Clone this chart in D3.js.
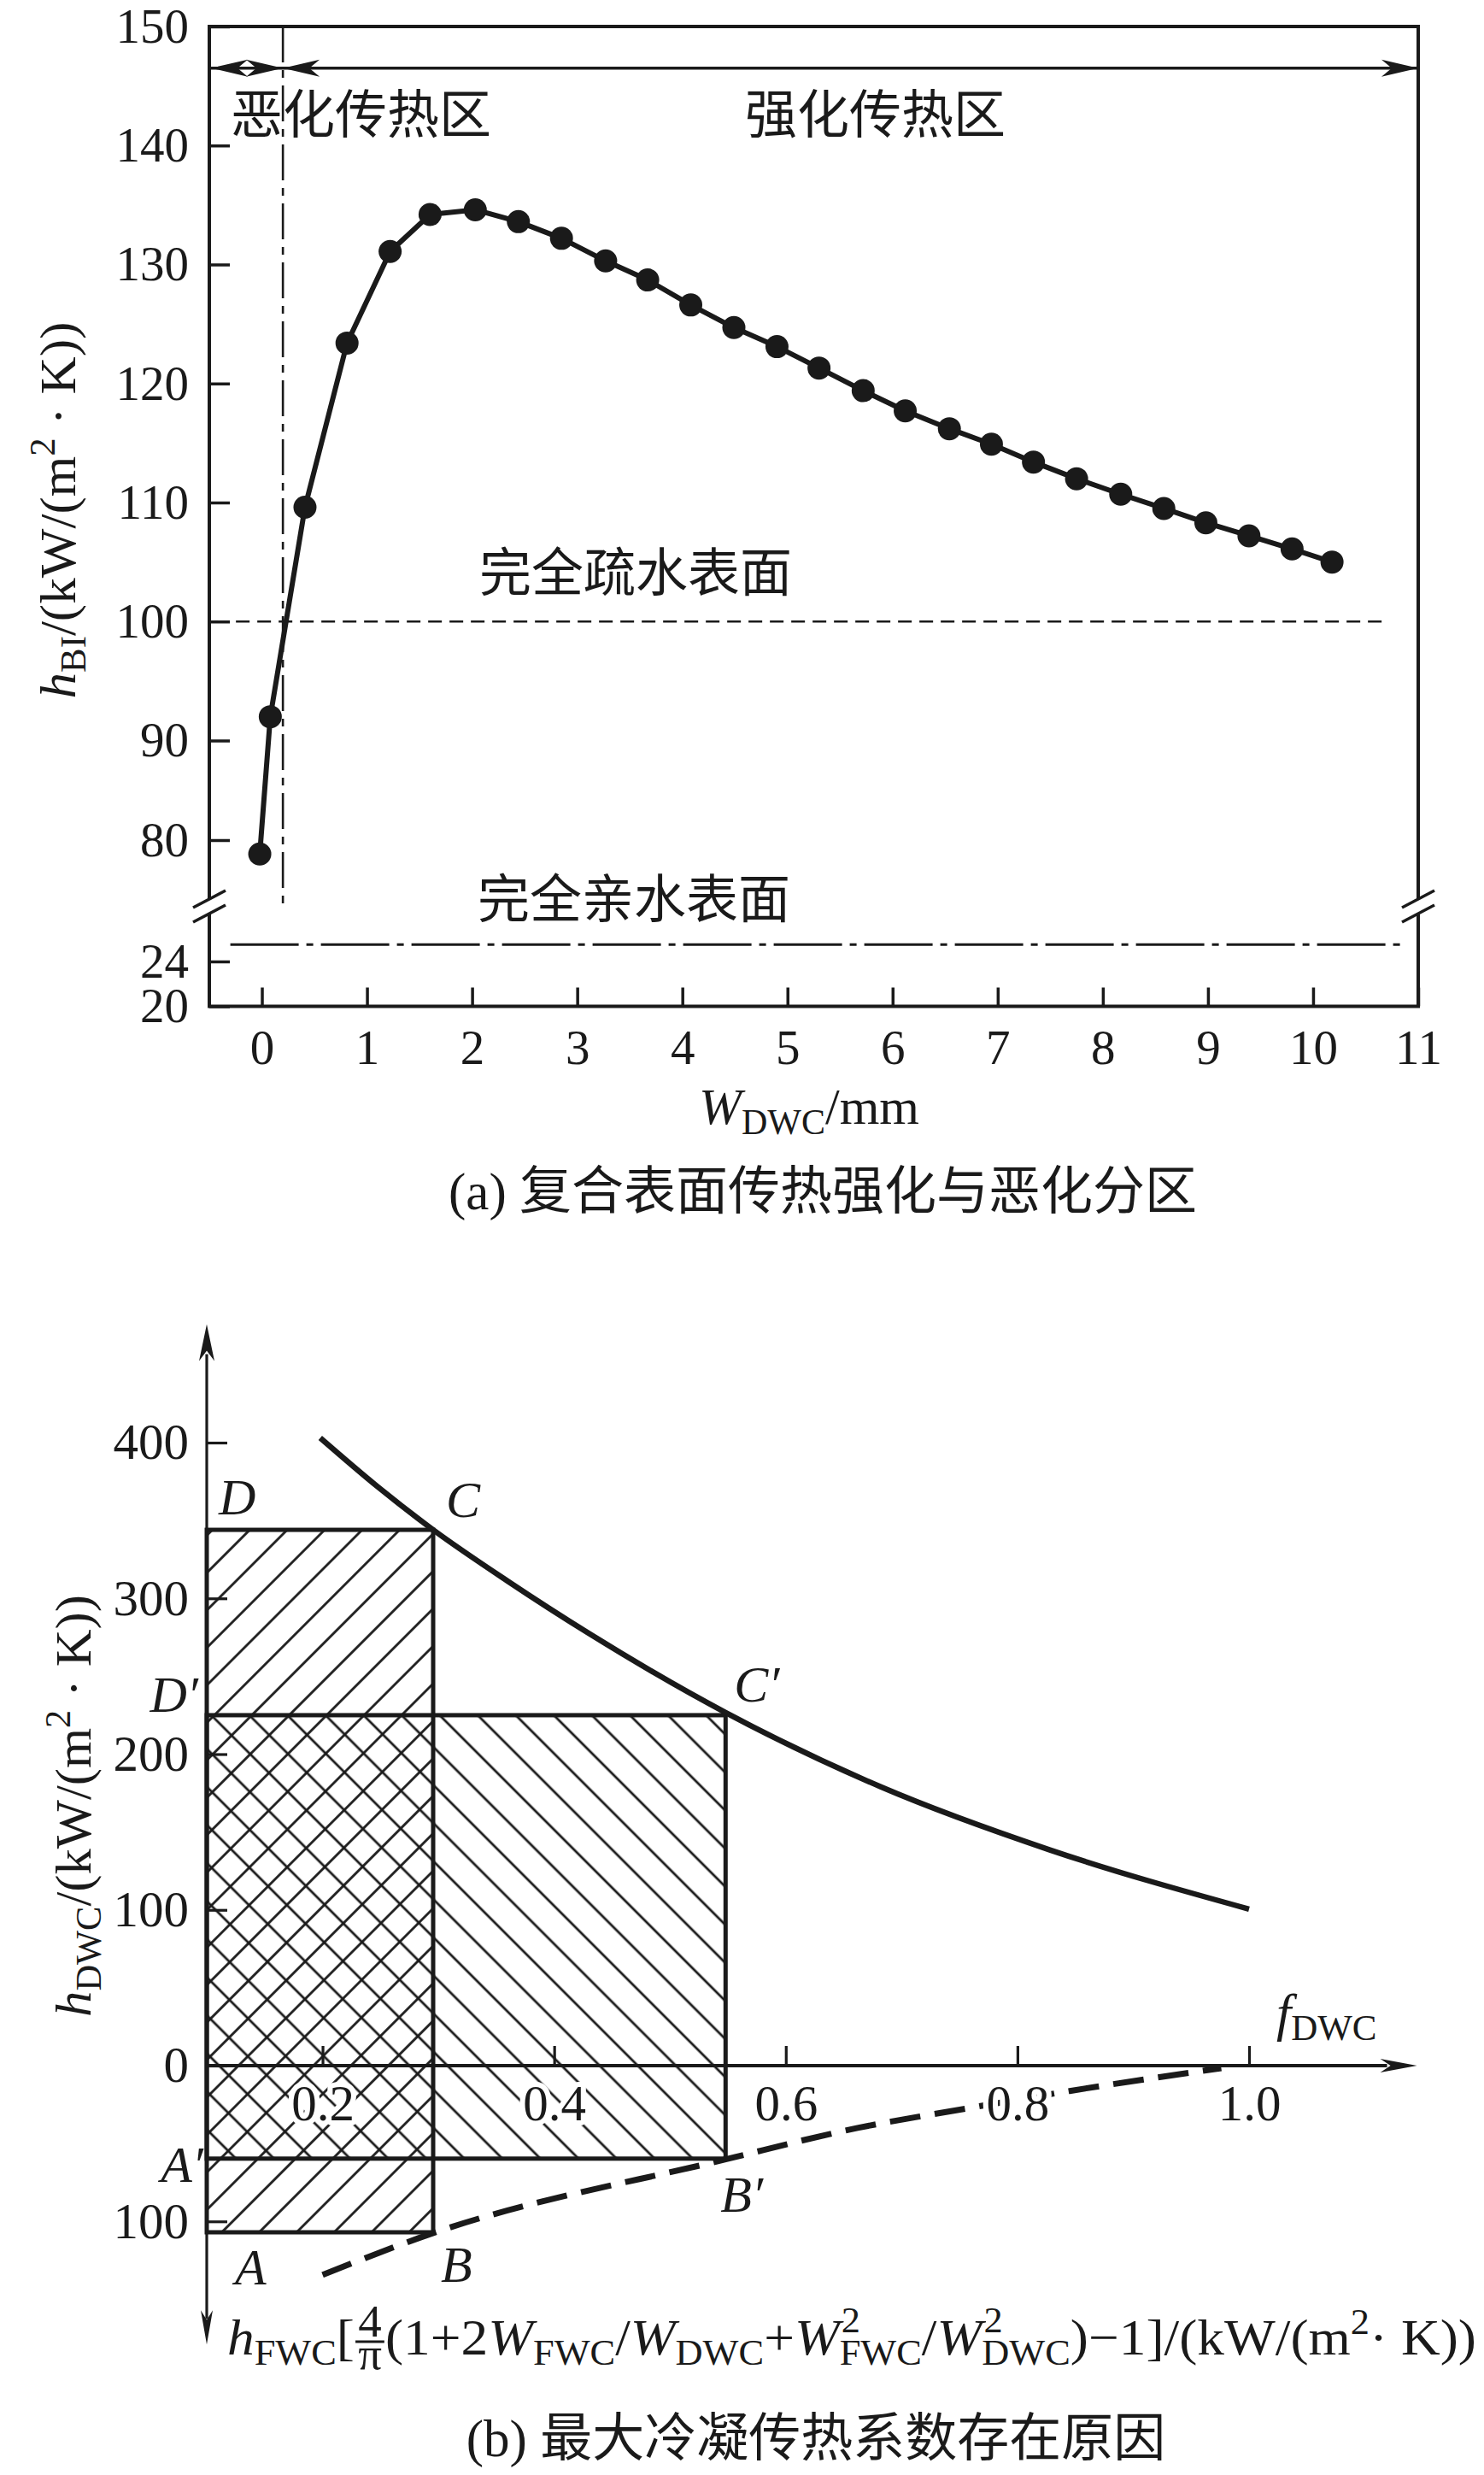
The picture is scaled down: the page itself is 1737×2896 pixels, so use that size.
<!DOCTYPE html>
<html>
<head>
<meta charset="utf-8">
<script src="https://cdn.jsdelivr.net/npm/d3@7"></script>
<style>
  body { margin: 0; background: #fff; }
  svg { display: block; }
</style>
</head>
<body>
<script>
// ---- (a) data ----
const widthTicks = d3.range(0, 12);
const hTicks = [80, 90, 100, 110, 120, 130, 140, 150];
const hLowTicks = [20, 24];
const wDwc = [-0.02, 0.08, 0.41, 0.81, 1.22, 1.60, 2.03, 2.44, 2.85, 3.27, 3.67, 4.08, 4.49, 4.90,
              5.30, 5.72, 6.12, 6.54, 6.94, 7.34, 7.75, 8.17, 8.58, 8.98, 9.39, 9.80, 10.18];
const hBi = [78.6, 92.0, 109.6, 123.4, 131.1, 134.2, 134.6, 133.6, 132.2, 130.3, 128.7, 126.6, 124.7, 123.1,
             121.3, 119.4, 117.7, 116.2, 114.9, 113.4, 112.0, 110.7, 109.5, 108.3, 107.2, 106.1, 105.0];
const hPhobic = 100;    // 完全疏水表面
const hPhilic = 25.5;   // 完全亲水表面
const wCritical = 0.2;  // 恶化/强化 分界

// ---- (b) data ----
const fTicks = [0.2, 0.4, 0.6, 0.8, 1.0];
const hDwcTicks = [-100, 0, 100, 200, 300, 400];
const dwcF = [0.198, 0.247, 0.2955, 0.36, 0.43, 0.548, 0.682, 0.828, 1.0];
const dwcH = [403, 372, 344, 311, 277.5, 226.7, 179, 138.5, 100.5];
const fwcF = [0.2, 0.2955, 0.548, 0.662, 0.757, 0.845, 0.976];
const fwcH = [-134.3, -107.5, -60.2, -40, -27.4, -16.3, -1.6];
const rectF = [0.2955, 0.548];     // B(C), B'(C')
const rectTop = [344, 225];        // D, D'
const rectBottom = [-107, -59.7];  // A, A'

const ink = '#1a1a1a';
const serif = '"Liberation Serif","Times New Roman",serif';
const cjk = '"Noto Sans CJK SC","Noto Sans CJK JP",sans-serif';

const svg = d3.select('body').append('svg')
  .attr('width', 1737).attr('height', 2896);

function arrowHead(g, x, y, angle, len, hw) {
  g.append('path')
    .attr('d', `M0,0 L${-len},${-hw} L${-len * 0.72},0 L${-len},${hw} Z`)
    .attr('transform', `translate(${x},${y}) rotate(${angle})`)
    .attr('fill', ink);
}

// =================== (a) ===================
const x1 = d3.scaleLinear().domain([-0.5, 11]).range([245, 1660]);
const y1 = d3.scaleLinear().domain([80, 90, 150]).range([983, 866.5, 31]);
const y1Low = d3.scaleLinear().domain([20, 24]).range([1177.5, 1125]);
const L = x1(-0.5), R = x1(11), T = y1(150), B = y1Low(20);

const ga = svg.append('g');

ga.append('rect')
  .attr('x', L).attr('y', T).attr('width', R - L).attr('height', B - T)
  .attr('fill', 'none').attr('stroke', ink).attr('stroke-width', 4);

// axis breaks
[L, R].forEach(function(xb) {
  ga.append('rect').attr('x', xb - 6).attr('y', 1053).attr('width', 12).attr('height', 17).attr('fill', '#fff');
  [0, 17].forEach(function(off) {
    ga.append('line')
      .attr('x1', xb - 19).attr('y1', 1062 + off).attr('x2', xb + 19).attr('y2', 1042 + off)
      .attr('stroke', ink).attr('stroke-width', 3.5);
  });
});

// y axis (upper and lower part)
const gy1 = ga.append('g').attr('transform', `translate(${L},0)`)
  .call(d3.axisLeft(y1).tickValues(hTicks).tickFormat(d3.format('d'))
    .tickSizeInner(-24).tickSizeOuter(0).tickPadding(24));
const gy1b = ga.append('g').attr('transform', `translate(${L},0)`)
  .call(d3.axisLeft(y1Low).tickValues(hLowTicks).tickFormat(d3.format('d'))
    .tickSizeInner(-24).tickSizeOuter(0).tickPadding(24));
const gx1 = ga.append('g').attr('transform', `translate(0,${B})`)
  .call(d3.axisBottom(x1).tickValues(widthTicks).tickFormat(d3.format('d'))
    .tickSizeInner(-22).tickSizeOuter(0).tickPadding(27));
[gy1, gy1b, gx1].forEach(function(g) {
  g.select('.domain').remove();
  g.attr('font-family', serif).attr('font-size', 57).attr('color', ink);
  g.selectAll('line').attr('stroke-width', 3.5);
});

// reference lines
ga.append('line')
  .attr('x1', x1(-0.45)).attr('x2', x1(10.7)).attr('y1', y1(hPhobic)).attr('y2', y1(hPhobic))
  .attr('stroke', ink).attr('stroke-width', 2.6).attr('stroke-dasharray', '16,9');
ga.append('line')
  .attr('x1', x1(-0.3)).attr('x2', x1(10.84)).attr('y1', y1Low(hPhilic)).attr('y2', y1Low(hPhilic))
  .attr('stroke', ink).attr('stroke-width', 3).attr('stroke-dasharray', '80,9,8,9');
ga.append('line')
  .attr('x1', x1(wCritical)).attr('x2', x1(wCritical)).attr('y1', T).attr('y2', 1060)
  .attr('stroke', ink).attr('stroke-width', 2.6).attr('stroke-dasharray', '42,9,9,9');

// region arrows
const ya = y1(146.5);
ga.append('line').attr('x1', L).attr('x2', R).attr('y1', ya).attr('y2', ya)
  .attr('stroke', ink).attr('stroke-width', 3.5);
arrowHead(ga, L + 2, ya, 180, 43, 10);
arrowHead(ga, x1(wCritical), ya, 0, 43, 10);
arrowHead(ga, x1(wCritical), ya, 180, 43, 10);
arrowHead(ga, R, ya, 0, 43, 10);

// data line + points
const pts = d3.zip(wDwc, hBi);
ga.append('path')
  .attr('d', d3.line().x(d => x1(d[0])).y(d => y1(d[1]))(pts))
  .attr('fill', 'none').attr('stroke', ink).attr('stroke-width', 6).attr('stroke-linejoin', 'round');
ga.selectAll('circle.pt').data(pts).join('circle')
  .attr('class', 'pt')
  .attr('cx', d => x1(d[0])).attr('cy', d => y1(d[1])).attr('r', 13.5).attr('fill', ink);

// texts
function cjkText(g, str, x, y, size, anchor) {
  return g.append('text').attr('x', x).attr('y', y).attr('font-family', cjk)
    .attr('font-size', size).attr('fill', ink).attr('text-anchor', anchor || 'start').text(str);
}
cjkText(ga, '恶化传热区', 270, 156, 61);
cjkText(ga, '强化传热区', 872, 156, 61);
cjkText(ga, '完全疏水表面', 561, 692, 61);
cjkText(ga, '完全亲水表面', 559, 1074, 61);

// rotated y title helper
function unitTitle(g, cx, cy, sub, target) {
  const grp = g.append('g');
  const t = grp.append('text').attr('font-family', serif).attr('font-size', 60)
    .attr('fill', ink).attr('text-anchor', 'middle');
  t.append('tspan').attr('font-style', 'italic').text('h');
  t.append('tspan').attr('font-size', 42).attr('dy', 12).text(sub);
  t.append('tspan').attr('dy', -12).text('/(kW/(m');
  t.append('tspan').attr('font-size', 42).attr('dy', -24).text('2');
  t.append('tspan').attr('dy', 24).text(' · K))');
  const w = t.node().getBBox().width;
  grp.attr('transform', `translate(${cx},${cy}) rotate(-90) scale(${target / w},1)`);
}
unitTitle(ga, 88, 597, 'BI', 441);

// x title
const xt = ga.append('text').attr('x', 947).attr('y', 1315).attr('font-family', serif)
  .attr('font-size', 60).attr('fill', ink).attr('text-anchor', 'middle');
xt.append('tspan').attr('font-style', 'italic').text('W');
xt.append('tspan').attr('font-size', 42).attr('dy', 12).text('DWC');
xt.append('tspan').attr('dy', -12).text('/mm');

// caption (a)
const ca = ga.append('text').attr('x', 963).attr('y', 1415).attr('fill', ink)
  .attr('font-size', 61).attr('text-anchor', 'middle');
ca.append('tspan').attr('font-family', serif).text('(a) ');
ca.append('tspan').attr('font-family', cjk).text('复合表面传热强化与恶化分区');

// =================== (b) ===================
const x2 = d3.scaleLinear().domain([0.1, 1.0]).range([242, 1462]);
const y2 = d3.scaleLinear().domain([0, 400]).range([2417, 1688]);
const gb = svg.append('g');

const defs = svg.append('defs');
function hatch(id, angle, spacing) {
  const p = defs.append('pattern').attr('id', id)
    .attr('patternUnits', 'userSpaceOnUse')
    .attr('width', spacing).attr('height', spacing)
    .attr('patternTransform', `rotate(${angle})`);
  p.append('line')
    .attr('x1', spacing / 2).attr('x2', spacing / 2).attr('y1', -2).attr('y2', spacing + 2)
    .attr('stroke', ink).attr('stroke-width', 2.8);
}
hatch('hatchF', 45, 31);
hatch('hatchB', -45, 31.5);

// rectangles ABCD and A'B'C'D'
['hatchF', 'hatchB'].forEach(function(id, i) {
  gb.append('rect')
    .attr('x', x2(0.1)).attr('y', y2(rectTop[i]))
    .attr('width', x2(rectF[i]) - x2(0.1)).attr('height', y2(rectBottom[i]) - y2(rectTop[i]))
    .attr('fill', `url(#${id})`);
});
[0, 1].forEach(function(i) {
  gb.append('rect')
    .attr('x', x2(0.1)).attr('y', y2(rectTop[i]))
    .attr('width', x2(rectF[i]) - x2(0.1)).attr('height', y2(rectBottom[i]) - y2(rectTop[i]))
    .attr('fill', 'none').attr('stroke', ink).attr('stroke-width', 5);
});

// curves
gb.append('path')
  .attr('d', d3.line().x(d => x2(d[0])).y(d => y2(d[1])).curve(d3.curveMonotoneX)(d3.zip(dwcF, dwcH)))
  .attr('fill', 'none').attr('stroke', ink).attr('stroke-width', 6.5);
gb.append('path')
  .attr('d', d3.line().x(d => x2(d[0])).y(d => y2(d[1])).curve(d3.curveMonotoneX)(d3.zip(fwcF, fwcH)))
  .attr('fill', 'none').attr('stroke', ink).attr('stroke-width', 7).attr('stroke-dasharray', '36,17');

// axes with arrows
const yTopH = 476, yBotH = -179, xEndF = 1.145;
gb.append('line').attr('x1', x2(0.1)).attr('x2', x2(0.1)).attr('y1', y2(yTopH) + 35).attr('y2', y2(yBotH) - 30)
  .attr('stroke', ink).attr('stroke-width', 3.2);
arrowHead(gb, x2(0.1), y2(yTopH), -90, 43, 9);
arrowHead(gb, x2(0.1), y2(yBotH), 90, 40, 7);
gb.append('line').attr('x1', x2(0.1)).attr('x2', x2(xEndF) - 35).attr('y1', y2(0)).attr('y2', y2(0))
  .attr('stroke', ink).attr('stroke-width', 4);
arrowHead(gb, x2(xEndF), y2(0), 0, 43, 8);

const gx2 = gb.append('g').attr('transform', `translate(0,${y2(0)})`)
  .call(d3.axisBottom(x2).tickValues(fTicks).tickFormat(d3.format('.1f'))
    .tickSizeInner(-23).tickSizeOuter(0).tickPadding(22));
const gy2 = gb.append('g').attr('transform', `translate(${x2(0.1)},0)`)
  .call(d3.axisLeft(y2).tickValues(hDwcTicks).tickFormat(d => Math.abs(d))
    .tickSizeInner(-24).tickSizeOuter(0).tickPadding(21));
[gx2, gy2].forEach(function(g) {
  g.select('.domain').remove();
  g.attr('font-family', serif).attr('font-size', 59).attr('color', ink);
  g.selectAll('line').attr('stroke-width', 3.2);
});
gx2.selectAll('text').attr('stroke', '#fff').attr('stroke-width', 12)
  .attr('paint-order', 'stroke').attr('stroke-linejoin', 'round');

// point letters
function letter(str, x, y, anchor) {
  gb.append('text').attr('x', x).attr('y', y).attr('font-family', serif).attr('font-style', 'italic')
    .attr('font-size', 60).attr('fill', ink).attr('text-anchor', anchor || 'start').text(str);
}
letter('D', x2(0.1) + 14, y2(rectTop[0]) - 18);
letter('C', x2(rectF[0]) + 15, y2(rectTop[0]) - 15);
letter('D′', x2(0.1) - 10, y2(rectTop[1]) - 4, 'end');
letter('C′', x2(rectF[1]) + 10, y2(rectTop[1]) - 16);
letter('A′', x2(0.1) - 4, y2(rectBottom[1]) + 27, 'end');
letter('B′', x2(rectF[1]) - 6, y2(rectBottom[1]) + 62);
letter('A', x2(0.1) + 33, y2(rectBottom[0]) + 61);
letter('B', x2(rectF[0]) + 9, y2(rectBottom[0]) + 58);

// f_DWC label
const fl = gb.append('text').attr('x', 1494).attr('y', 2376).attr('font-family', serif)
  .attr('font-size', 62).attr('fill', ink);
fl.append('tspan').attr('font-style', 'italic').text('f');
fl.append('tspan').attr('font-size', 43).attr('dy', 11).text('DWC');

unitTitle(gb, 106, 2113, 'DWC', 494);

// lower axis formula
const gf = gb.append('g');
let cx = 0;
function put(str, o) {
  o = o || {};
  const t = gf.append('text').attr('x', cx + (o.dx || 0)).attr('y', o.dy || 0)
    .attr('font-family', serif).attr('font-size', o.size || 60).attr('fill', ink)
    .attr('font-style', o.italic ? 'italic' : 'normal').text(str);
  const w = t.node().getComputedTextLength();
  if (!o.stay) cx += w;
  return w;
}
put('h', { italic: true });
put('FWC', { size: 42, dy: 12 });
put('[');
const w4 = put('4', { size: 52, dy: -21, stay: true, dx: 4 });
gf.append('line').attr('x1', cx + 1).attr('x2', cx + w4 + 7).attr('y1', -15).attr('y2', -15)
  .attr('stroke', ink).attr('stroke-width', 3);
put('π', { size: 52, dy: 17, stay: true, dx: 4 });
cx += w4 + 8;
put('(1+2');
put('W', { italic: true });
put('FWC', { size: 42, dy: 12 });
put('/');
put('W', { italic: true });
put('DWC', { size: 42, dy: 12 });
put('+');
put('W', { italic: true });
put('2', { size: 42, dy: -26, stay: true, dx: 2 });
put('FWC', { size: 42, dy: 12 });
put('/');
put('W', { italic: true });
put('2', { size: 42, dy: -26, stay: true, dx: 2 });
put('DWC', { size: 42, dy: 12 });
put(')−1]/(kW/(m');
put('2', { size: 42, dy: -24 });
put(' · K))');
gf.attr('transform', `translate(266,2755) scale(${1462 / cx},1)`);

// caption (b)
const cb = gb.append('text').attr('x', 955).attr('y', 2874).attr('fill', ink)
  .attr('font-size', 61).attr('text-anchor', 'middle');
cb.append('tspan').attr('font-family', serif).text('(b) ');
cb.append('tspan').attr('font-family', cjk).text('最大冷凝传热系数存在原因');
</script>
</body>
</html>
